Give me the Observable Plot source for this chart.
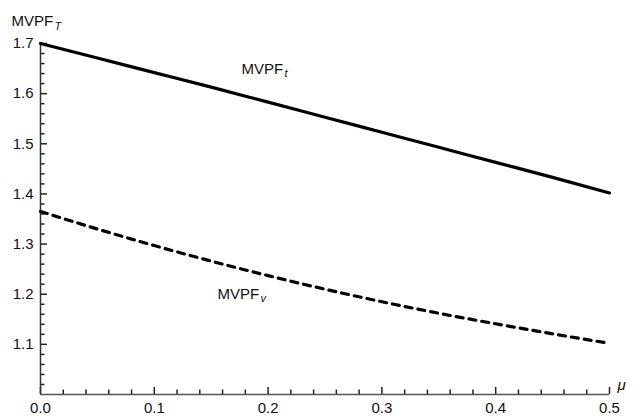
<!DOCTYPE html>
<html>
<head>
<meta charset="utf-8">
<script src="https://cdn.jsdelivr.net/npm/d3@7"></script>
<script src="https://cdn.jsdelivr.net/npm/@observablehq/plot@0.6"></script>
<style>
  html, body { margin: 0; padding: 0; background: #fff; }
  #chart { width: 634px; height: 416px; }
</style>
</head>
<body>
<div id="chart"></div>
<script>
// Data
const mu = [0, 0.05, 0.1, 0.15, 0.2, 0.25, 0.3, 0.35, 0.4, 0.45, 0.5];
const mvpfT = [1.700, 1.671, 1.642, 1.613, 1.583, 1.553, 1.523, 1.493, 1.463, 1.433, 1.402];
const mvpfV = [1.365, 1.330, 1.297, 1.266, 1.237, 1.210, 1.185, 1.162, 1.141, 1.121, 1.102];
const xTicks = [0, 0.1, 0.2, 0.3, 0.4, 0.5];
const yTicks = [1.1, 1.2, 1.3, 1.4, 1.5, 1.6, 1.7];
const xMinor = [0.02, 0.04, 0.06, 0.08, 0.12, 0.14, 0.16, 0.18, 0.22, 0.24, 0.26, 0.28, 0.32, 0.34, 0.36, 0.38, 0.42, 0.44, 0.46, 0.48];
const yMinor = [1.02, 1.04, 1.06, 1.08, 1.12, 1.14, 1.16, 1.18, 1.22, 1.24, 1.26, 1.28, 1.32, 1.34, 1.36, 1.38, 1.42, 1.44, 1.46, 1.48, 1.52, 1.54, 1.56, 1.58, 1.62, 1.64, 1.66, 1.68];

const solid = mu.map((m, i) => ({mu: m, v: mvpfT[i]}));
const dashed = mu.map((m, i) => ({mu: m, v: mvpfV[i]}));

const W = 634, H = 416, ML = 40, MR = 25, MT = 43, MB = 22;
const PW = W - ML - MR, PH = H - MT - MB;
const axisColor = "#222";
const textColor = "#111";
const font = "Liberation Sans, Arial, Helvetica, sans-serif";

const chart = Plot.plot({
  width: W,
  height: H,
  marginLeft: ML,
  marginRight: MR,
  marginTop: MT,
  marginBottom: MB,
  style: {fontFamily: font, fontSize: "15px", color: textColor, background: "#fff"},
  x: {domain: [0, 0.5], axis: null},
  y: {domain: [1.0, 1.7], axis: null},
  marks: [
    // tick labels
    Plot.axisX({ticks: xTicks, tickSize: 0, tickPadding: 8, tickFormat: d3.format(".1f"), label: null, fontSize: 15, fill: textColor}),
    Plot.axisY({ticks: yTicks, tickSize: 0, tickPadding: 7, tickFormat: d3.format(".1f"), label: null, fontSize: 15, fill: textColor}),
    // inward ticks drawn as tick marks anchored on the axes
    Plot.tickX(xTicks, {x: d => d, insetTop: PH - 7, stroke: axisColor, strokeWidth: 1.5}),
    Plot.tickX(xMinor, {x: d => d, insetTop: PH - 4.5, stroke: axisColor, strokeWidth: 1.5}),
    Plot.tickY(yTicks, {y: d => d, insetRight: PW - 7, stroke: axisColor, strokeWidth: 1.5}),
    Plot.tickY(yMinor, {y: d => d, insetRight: PW - 4.5, stroke: axisColor, strokeWidth: 1.5}),
    // axis lines
    Plot.ruleY([1.0], {stroke: "#555", strokeWidth: 1.5}),
    Plot.ruleX([0], {stroke: "#333", strokeWidth: 1.5}),
    // curves
    Plot.line(solid, {x: "mu", y: "v", stroke: "black", strokeWidth: 3.2, curve: "monotone-x"}),
    Plot.line(dashed, {x: "mu", y: "v", stroke: "black", strokeWidth: 3.2, strokeDasharray: "7,6", curve: "monotone-x"}),
    // axis labels
    Plot.text(["MVPF"], {x: 0, y: 1.7, dx: -29, dy: -22, text: d => d, textAnchor: "start", fontSize: 15, fill: textColor}),
    Plot.text(["T"], {x: 0, y: 1.7, dx: 14, dy: -17, text: d => d, textAnchor: "start", fontSize: 11, fontStyle: "italic", fill: textColor}),
    Plot.text(["μ"], {x: 0.5, y: 1.0, dx: 8, dy: -9, text: d => d, textAnchor: "start", fontSize: 15, fontStyle: "italic", fill: textColor}),
    // curve labels
    Plot.text(["MVPF"], {x: 0.1766, y: 1.6494, text: d => d, textAnchor: "start", fontSize: 15, fill: textColor}),
    Plot.text(["t"], {x: 0.1766, y: 1.6494, dx: 43, dy: 5, text: d => d, textAnchor: "start", fontSize: 11, fontStyle: "italic", fill: textColor}),
    Plot.text(["MVPF"], {x: 0.1555, y: 1.201, text: d => d, textAnchor: "start", fontSize: 15, fill: textColor}),
    Plot.text(["v"], {x: 0.1555, y: 1.201, dx: 43, dy: 5, text: d => d, textAnchor: "start", fontSize: 11, fontStyle: "italic", fill: textColor})
  ]
});
document.getElementById("chart").appendChild(chart);
</script>
</body>
</html>
